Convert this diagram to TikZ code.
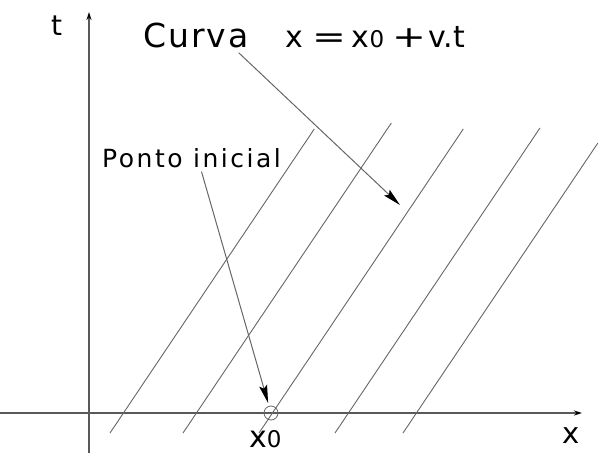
\documentclass[tikz,border=0pt]{standalone}
\usepackage{fontspec}
\setmainfont{DejaVu Sans}
\newfontfamily\figfont[LetterSpace=6]{DejaVu Sans}
\usetikzlibrary{arrows.meta}

\begin{document}
\begin{tikzpicture}[x=1pt,y=-1pt,
    eixo/.style={draw=black!65, line width=1.4pt, -{Stealth[length=8pt,width=5pt,color=black]}},
    reta/.style={draw=black!60, line width=0.9pt},
    seta/.style={draw=black!60, line width=1pt, -{Stealth[length=18pt,width=8pt,inset=3pt,color=black]}},
    rotulo/.style={inner sep=0pt, anchor=base west, font=\figfont}]
  \useasboundingbox (0,0) rectangle (598,455);
  % eixos
  \coordinate (tbase) at (89,453);
  \coordinate (ttopo) at (89,12);
  \coordinate (xbase) at (0,413);
  \coordinate (xtopo) at (582,413);
  \draw[eixo] (tbase) -- (ttopo);
  \draw[eixo] (xbase) -- (xtopo);
  % retas paralelas
  \foreach \b/\t in {110/129, 183/123, 259/129, 335/128, 403/143}
    \draw[reta] (\b,433) -- ({\b+(433-\t)*0.672},\t);
  % ponto inicial
  \node[circle, draw=black!60, line width=0.8pt, minimum size=14pt, inner sep=0pt] (x0c) at (271,413) {};
  % rotulos
  \node[rotulo, font=\figfont\fontsize{28}{30}\selectfont] (tlab) at (51,35) {t};
  \node[rotulo, font=\figfont\fontsize{29}{31}\selectfont] (xlab) at (562,443) {x};
  \node[rotulo, font=\figfont\fontsize{30}{32}\selectfont] (x0lab) at (249,447) {x{\fontsize{23}{25}\selectfont 0}};
  \node[rotulo, font=\figfont\fontsize{33}{35}\selectfont] (curva) at (143,47) {Curva};
  \node[rotulo, font=\fontsize{30}{32}\selectfont] (eq) at (285,47)
    {x\hspace{10pt}\scalebox{1.35}[1]{=}\hspace{5pt}x{\fontsize{23}{25}\selectfont 0}\hspace{8pt}\scalebox{1.35}[1]{+}\hspace{2pt}v.t};
  \node[rotulo, font=\figfont\fontsize{25}{27}\selectfont\addfontfeature{LetterSpace=10}] (ponto) at (102,167) {Ponto inicial};
  \coordinate (alvo) at (400,205);
  % setas
  \draw[seta] ([shift={(-10pt,-5pt)}]curva.south east) -- (alvo);
  \draw[seta, shorten >=3pt] ([shift={(10pt,-4pt)}]ponto.south) -- (x0c);
\end{tikzpicture}
\end{document}
